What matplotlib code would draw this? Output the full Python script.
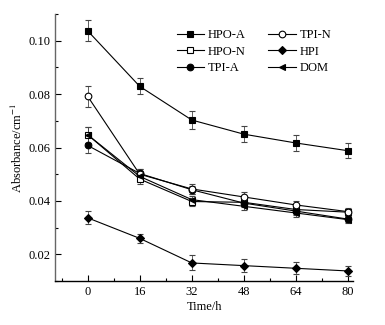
import matplotlib
matplotlib.use("Agg")
import matplotlib.pyplot as plt
from matplotlib.ticker import MultipleLocator

plt.rcParams["font.family"] = ["Liberation Serif", "DejaVu Serif"]
plt.rcParams["mathtext.fontset"] = "stix"

time_h = [0, 16, 32, 48, 64, 80]

hpo_a = [0.1037, 0.0829, 0.0703, 0.0650, 0.0617, 0.0588]
tpi_n = [0.0792, 0.0500, 0.0445, 0.0415, 0.0385, 0.0360]
hpo_n = [0.0648, 0.0482, 0.0398, 0.0395, 0.0368, 0.0358]
hpi = [0.0337, 0.0260, 0.0168, 0.0158, 0.0148, 0.0138]
tpi_a = [0.0608, 0.0503, 0.0442, 0.0392, 0.0362, 0.0332]
dom = [0.0648, 0.0492, 0.0405, 0.0380, 0.0355, 0.0330]

err_hpo_a = [0.0040, 0.0030, 0.0033, 0.0030, 0.0030, 0.0028]
err_tpi_n = [0.0040, 0.0020, 0.0020, 0.0018, 0.0016, 0.0015]
err_hpo_n = [0.0030, 0.0020, 0.0015, 0.0015, 0.0015, 0.0012]
err_hpi = [0.0025, 0.0018, 0.0028, 0.0025, 0.0023, 0.0020]
err_tpi_a = [0.0030, 0.0018, 0.0015, 0.0015, 0.0015, 0.0012]
err_dom = [0.0030, 0.0018, 0.0015, 0.0015, 0.0015, 0.0012]

fig = plt.figure(figsize=(3.85, 3.25), dpi=100)
ax = fig.add_axes([0.143, 0.135, 0.774, 0.822])

series = [
    ("HPO-A", hpo_a, err_hpo_a, "s", "k"),
    ("HPO-N", hpo_n, err_hpo_n, "s", "white"),
    ("TPI-A", tpi_a, err_tpi_a, "o", "k"),
    ("TPI-N", tpi_n, err_tpi_n, "o", "white"),
    ("HPI", hpi, err_hpi, "D", "k"),
    ("DOM", dom, err_dom, "<", "k"),
]

handles = {}
for name, vals, errs, mk, fc in series:
    ms = 4.3 if mk == "D" else 4.8
    h = ax.errorbar(time_h, vals, yerr=errs, color="k", lw=0.8, marker=mk,
                    ms=ms, mfc=fc, mec="k", mew=0.8, capsize=2,
                    elinewidth=0.6, ecolor="#444444", capthick=0.6,
                    clip_on=False, label=name)
    handles[name] = h

order = ["HPO-A", "HPO-N", "TPI-A", "TPI-N", "HPI", "DOM"]
ax.legend([handles[n][0] for n in order], order, ncol=2, frameon=False,
          loc="upper right", bbox_to_anchor=(0.965, 0.985), fontsize=9,
          handlelength=2.2, handletextpad=0.3, columnspacing=1.8,
          labelspacing=0.35)

ax.set_xlim(-10, 81.5)
ax.set_ylim(0.01, 0.11)
ax.set_xticks(time_h)
ax.xaxis.set_minor_locator(MultipleLocator(8))
ax.set_yticks([0.02, 0.04, 0.06, 0.08, 0.10])
ax.set_yticklabels(["0.02", "0.04", "0.06", "0.08", "0.10"])
ax.yaxis.set_minor_locator(MultipleLocator(0.01))
ax.tick_params(which="both", direction="in", labelsize=9, top=False, right=False)
ax.tick_params(which="major", length=4, width=0.8)
ax.tick_params(which="minor", length=2.5, width=0.8)

for s in ["top", "right"]:
    ax.spines[s].set_visible(False)
ax.spines["left"].set_color("#666666")
ax.spines["left"].set_linewidth(1.0)
ax.spines["bottom"].set_linewidth(1.0)

ax.set_xlabel("Time/h", fontsize=9, labelpad=2)
ax.set_ylabel("Absorbance/cm$^{-1}$", fontsize=9, labelpad=2)

fig.savefig("out.png", dpi=100)
